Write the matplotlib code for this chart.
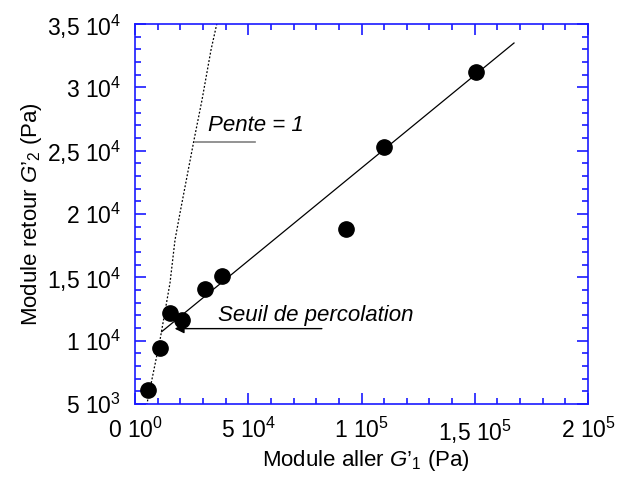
import numpy as np
import matplotlib
matplotlib.use('Agg')
import matplotlib.pyplot as plt
from matplotlib.ticker import MultipleLocator, FixedLocator

plt.rcParams['font.family'] = ['Liberation Sans', 'DejaVu Sans']
plt.rcParams['mathtext.fontset'] = 'custom'
plt.rcParams['mathtext.rm'] = 'Liberation Sans'
plt.rcParams['mathtext.it'] = 'Liberation Sans:italic'

# donnees
g1 = [5740, 11040, 15450, 20750, 30900, 38410, 93160, 109900, 150550]
g2 = [6105, 9420, 12180, 11630, 14080, 15100, 18820, 25290, 31210]

# droite de regression
fit_x = [11790, 167330]
fit_y = [10710, 33500]

# pente = 1 (pointilles)
p1_x = [5170, 11040, 15450, 17660, 19870, 26050, 29580, 33550, 36200]
p1_y = [4920, 10053, 14553, 17948, 20080, 25840, 29000, 32950, 35080]

xticks = [0, 50000, 100000, 150000, 200000]
xlabels = [r'0 $10^0$', r'5 $10^4$', r'1 $10^5$', r'1,5 $10^5$', r'2 $10^5$']
yticks = [5000, 10000, 15000, 20000, 25000, 30000, 35000]
ylabels = [r'5 $10^3$', r'1 $10^4$', r'1,5 $10^4$', r'2 $10^4$',
           r'2,5 $10^4$', r'3 $10^4$', r'3,5 $10^4$']

fig = plt.figure(figsize=(6.23, 4.80), dpi=100)
ax = fig.add_axes([135/623, 1 - 404/480, 453/623, 380/480])

ax.plot(p1_x, p1_y, color='black', linestyle=(0, (1.5, 1.5)), linewidth=0.9)
ax.plot(fit_x, fit_y, color='black', linewidth=0.9)
ax.plot(g1, g2, 'o', color='black', markersize=11)

ax.set_xlim(0, 200000)
ax.set_ylim(5000, 35000)

blue = '#1a1aff'
for s in ax.spines.values():
    s.set_color(blue)
    s.set_linewidth(1.2)

ax.xaxis.set_major_locator(FixedLocator(xticks))
ax.set_xticklabels(xlabels)
ax.yaxis.set_major_locator(FixedLocator(yticks))
ax.set_yticklabels(ylabels)
ax.xaxis.set_minor_locator(MultipleLocator(10000))
ax.yaxis.set_minor_locator(MultipleLocator(1000))
ax.tick_params(which='both', direction='in', top=True, right=True, color=blue, width=1.2)
ax.tick_params(which='major', length=8, labelsize=16.5, pad=10)
ax.tick_params(which='minor', length=4)

ax.set_xlabel("Module aller $\\mathit{G\u2019}_{1}$ (Pa)", fontsize=16, labelpad=0)
ax.xaxis.set_label_coords(0.51, -0.115)
ax.set_ylabel("Module retour $\\mathit{G\u2019}_{2}$ (Pa)", fontsize=16)
ax.yaxis.set_label_coords(-0.2, 0.5)

# annotations
ax.plot([26500, 53000], [25685, 25685], color='gray', linewidth=1.2)
ax.text(32230, 26950, 'Pente = 1', fontsize=16, style='italic', va='center')
ax.text(36500, 12000, 'Seuil de percolation', fontsize=16, style='italic', va='center')
ax.annotate('', xy=(17500, 10950), xytext=(82500, 10950),
            arrowprops=dict(arrowstyle='-|>', color='black', lw=1.0,
                            mutation_scale=14, shrinkA=0, shrinkB=0))

fig.savefig('out.png', dpi=100)
